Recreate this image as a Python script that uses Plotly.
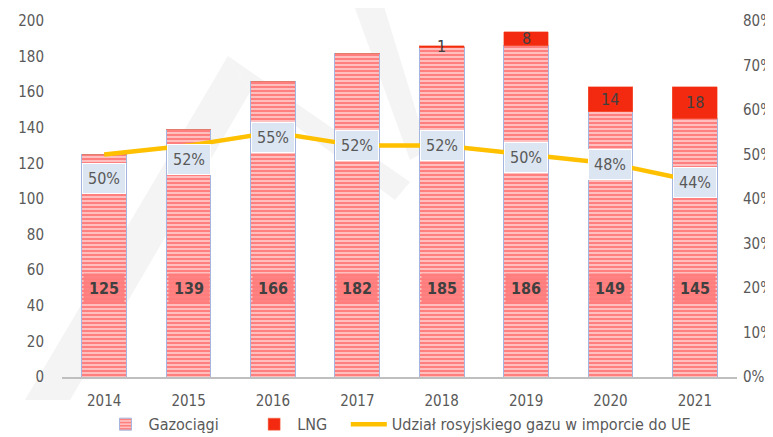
import plotly.graph_objects as go

years = ["2014", "2015", "2016", "2017", "2018", "2019", "2020", "2021"]
pipelines = [125, 139, 166, 182, 185, 186, 149, 145]
lng = [0, 0, 0, 0, 1, 8, 14, 18]
share = [0.50, 0.52, 0.55, 0.52, 0.52, 0.50, 0.48, 0.44]
share_labels = ["50%", "52%", "55%", "52%", "52%", "50%", "48%", "44%"]
share_label_shift = [-24, -14, -5, 0, 0, -3, -1, -1]

FONT = "DejaVu Sans Condensed, Roboto, sans-serif"
GRAY = "#595959"
# the page adds an 8px body margin, so the figure is drawn 8px smaller
W, H = 765, 429
ML, MR, MT, MB = 54, 36, 13, 60
PX0, PX1, PY0, PY1 = 62, 737, 21, 377  # plot box in screenshot pixels


def px_path(points):
    pts = [((x - PX0) / (PX1 - PX0), (PY1 - y) / (PY1 - PY0)) for x, y in points]
    return "M " + " L ".join(f"{a:.4f},{b:.4f}" for a, b in pts) + " Z"


fig = go.Figure()
fig.add_trace(go.Bar(
    x=years, y=pipelines, name="Gazociągi\u00a0\u00a0\u00a0\u00a0\u00a0\u00a0",
    marker=dict(color="white",
                pattern=dict(shape="-", fgcolor="#ff0000", bgcolor="#ffffff", size=4, solidity=0.75),
                line=dict(color="#a4b6e0", width=1)),
))
fig.add_trace(go.Bar(
    x=years, y=lng, name="LNG\u00a0\u00a0\u00a0",
    marker=dict(color="#f42a10", line=dict(color="#f36a4a", width=0.5)),
))
fig.add_trace(go.Scatter(
    x=years, y=share, name="Udział rosyjskiego gazu w imporcie do UE",
    mode="lines", line=dict(color="#ffc000", width=4.5), yaxis="y2",
))

ann = []
for i, v in enumerate(pipelines):
    ann.append(dict(x=i, y=50, xref="x", yref="y", text=f"<b>{v}</b>", showarrow=False,
                    font=dict(family=FONT, size=16, color="#404040"),
                    bgcolor="rgba(255,125,125,0.92)", borderpad=5))
for i, (p, l) in enumerate(zip(pipelines, lng)):
    if l > 0:
        ann.append(dict(x=i, y=p + l / 2, xref="x", yref="y", text=str(l), showarrow=False,
                        font=dict(family=FONT, size=16, color="#404040")))
for i, (s, t, dy) in enumerate(zip(share, share_labels, share_label_shift)):
    ann.append(dict(x=i, y=s, xref="x", yref="y2", text=t, showarrow=False, yshift=dy,
                    font=dict(family=FONT, size=16, color=GRAY),
                    bgcolor="#dce6f2", bordercolor="white", borderwidth=1, borderpad=5))

watermark = [
    [(25, 400), (70, 400), (250, 92), (228, 56)],
    [(228, 56), (250, 92), (395, 200), (410, 182)],
    [(352, 0), (382, 0), (428, 150), (410, 160)],
]
shapes = [dict(type="path", xref="paper", yref="paper", path=px_path(p),
               fillcolor="#f4f4f4", line=dict(width=0), layer="below") for p in watermark]

fig.update_layout(
    width=W, height=H,
    margin=dict(l=ML, r=MR, t=MT, b=MB, autoexpand=False),
    paper_bgcolor="white", plot_bgcolor="rgba(0,0,0,0)",
    barmode="stack", bargap=0.47,
    font=dict(family=FONT, size=15, color=GRAY),
    xaxis=dict(type="category", range=[-0.5, len(years) - 0.5], showgrid=False, showline=True,
               linecolor="#bfbfbf", linewidth=2, automargin=False,
               ticks="outside", ticklen=9, tickcolor="rgba(0,0,0,0)",
               tickfont=dict(family=FONT, size=15, color=GRAY)),
    yaxis=dict(range=[0, 200], dtick=20, showgrid=False, zeroline=False, showline=False,
               automargin=False, ticks="outside", ticklen=14, tickcolor="rgba(0,0,0,0)",
               tickfont=dict(family=FONT, size=15, color=GRAY)),
    yaxis2=dict(range=[0, 0.8], dtick=0.1, tickformat=".0%", overlaying="y", side="right",
                showgrid=False, zeroline=False, showline=False, automargin=False,
                ticks="outside", ticklen=2, tickcolor="rgba(0,0,0,0)",
                tickfont=dict(family=FONT, size=15, color=GRAY)),
    legend=dict(orientation="h", x=0.5, xanchor="center", yref="paper", y=-0.085, yanchor="top",
                font=dict(family=FONT, size=16, color=GRAY), traceorder="normal",
                itemwidth=36, tracegroupgap=0),
    annotations=ann,
    shapes=shapes,
)

fig.write_html("out.html")
